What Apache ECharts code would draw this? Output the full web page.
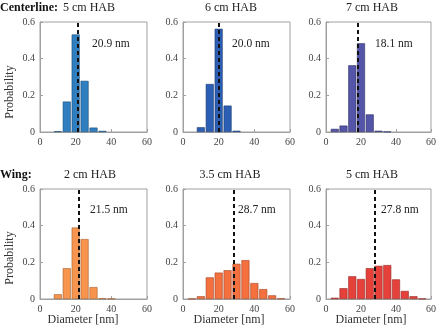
<!DOCTYPE html>
<html>
<head>
<meta charset="utf-8">
<script src="https://cdn.jsdelivr.net/npm/echarts@6/dist/echarts.min.js"></script>
<style>
  html, body { margin: 0; padding: 0; background: #fff; }
  #container { width: 439px; height: 327px; }
</style>
</head>
<body>
<div id="container"></div>
<script>
// bin centres in nm (5 nm bins)
const bins = [5, 10, 15, 20, 25, 30, 35, 40, 45, 50, 55];

const centerline5 = [0, 0.004, 0.166, 0.532, 0.279, 0.024, 0.006, 0, 0, 0, 0];
const centerline6 = [0, 0.026, 0.262, 0.563, 0.144, 0.007, 0, 0, 0, 0, 0];
const centerline7 = [0.017, 0.035, 0.364, 0.484, 0.096, 0.007, 0.002, 0, 0, 0, 0];
const wing2 = [0, 0.026, 0.168, 0.39, 0.327, 0.065, 0.004, 0.002, 0, 0, 0];
const wing35 = [0.002, 0.015, 0.118, 0.144, 0.157, 0.192, 0.212, 0.087, 0.054, 0.02, 0.003];
const wing5 = [0.007, 0.059, 0.124, 0.109, 0.168, 0.181, 0.185, 0.107, 0.044, 0.015, 0.002];

const meanDiameters = [20.9, 20.0, 18.1, 21.5, 28.7, 27.8];
const panelTitles = ['5 cm HAB', '6 cm HAB', '7 cm HAB', '2 cm HAB', '3.5 cm HAB', '5 cm HAB'];
const xTicks = [0, 20, 40, 60];
const yTicks = [0, 0.2, 0.4, 0.6];

const panelData = [centerline5, centerline6, centerline7, wing2, wing35, wing5];
const colors = ['#2f7fc0', '#2c5fb3', '#5454a8', '#f7944e', '#f4703f', '#e5413a'];
const borders = ['#1d4f7a', '#1c3c72', '#33336a', '#a5602f', '#a34626', '#962822'];

// layout of the six plot boxes
const lefts = [40, 183, 326];
const tops = [22, 189];
const boxW = 107;
const boxH = 110;
const titleX = [89, 231, 372, 90, 230, 372];
const noteX = [92, 232, 375, 90, 238, 381];
const diameterX = [83, 229, 371];

const serif = '"Liberation Serif", "DejaVu Serif", serif';

const myChart = echarts.init(document.getElementById('container'));

const grid = [];
const xAxis = [];
const yAxis = [];
const series = [];
const graphic = [];

panelData.forEach((values, i) => {
  const col = i % 3;
  const row = Math.floor(i / 3);
  const left = lefts[col];
  const top = tops[row];
  grid.push({
    left: left,
    top: top,
    width: boxW,
    height: boxH,
    show: true,
    borderColor: '#a0a0a0',
    borderWidth: 1,
  });
  xAxis.push({
    gridIndex: i,
    type: 'value',
    min: 0,
    max: 60,
    interval: 20,
    axisLine: { show: true, lineStyle: { color: '#a0a0a0' } },
    axisTick: { show: true, inside: true, length: 3, lineStyle: { color: '#a0a0a0' } },
    splitLine: { show: false },
    axisLabel: {
      color: '#444',
      fontFamily: serif,
      fontSize: 10,
      margin: 5,
      formatter: (v) => (xTicks.includes(v) ? String(v) : ''),
    },
  });
  yAxis.push({
    gridIndex: i,
    type: 'value',
    min: 0,
    max: 0.6,
    interval: 0.2,
    axisLine: { show: true, lineStyle: { color: '#a0a0a0' } },
    axisTick: { show: true, inside: true, length: 3, lineStyle: { color: '#a0a0a0' } },
    splitLine: { show: false },
    axisLabel: {
      color: '#444',
      fontFamily: serif,
      fontSize: 10,
      margin: 5,
      formatter: (v) => {
        const t = yTicks.find((y) => Math.abs(y - v) < 1e-6);
        return t === undefined ? '' : (t === 0 ? '0' : t.toFixed(1));
      },
    },
  });
  // empty bins are not drawn
  const barData = bins.map((b, k) => [b, values[k]]).filter((d) => d[1] > 0);
  series.push({
    type: 'bar',
    xAxisIndex: i,
    yAxisIndex: i,
    data: barData,
    barWidth: 8,
    itemStyle: {
      color: colors[i],
      borderColor: borders[i],
      borderWidth: 0.6,
    },
    silent: true,
    markLine: {
      silent: true,
      symbol: 'none',
      label: { show: false },
      lineStyle: { color: '#111', type: [4, 3], width: 2 },
      data: [{ xAxis: meanDiameters[i] }],
    },
  });

  // panel title
  graphic.push({
    type: 'text',
    x: titleX[i],
    y: row === 0 ? 8 : 175,
    style: {
      text: panelTitles[i],
      font: '12px ' + serif,
      fill: '#222',
      textAlign: 'center',
      textVerticalAlign: 'middle',
    },
  });
  // mean annotation
  graphic.push({
    type: 'text',
    x: noteX[i],
    y: row === 0 ? 44 : 210,
    style: {
      text: meanDiameters[i].toFixed(1) + ' nm',
      font: '11.5px ' + serif,
      fill: '#222',
      textVerticalAlign: 'middle',
    },
  });
  if (row === 1) {
    graphic.push({
      type: 'text',
      x: diameterX[col],
      y: 320,
      style: {
        text: 'Diameter [nm]',
        font: '12px ' + serif,
        fill: '#333',
        textAlign: 'center',
        textVerticalAlign: 'middle',
      },
    });
  }
});

// row labels and y-axis names
graphic.push(
  {
    type: 'text', x: 0, y: 8,
    style: { text: 'Centerline:', font: 'bold 12px ' + serif, fill: '#111', textVerticalAlign: 'middle' },
  },
  {
    type: 'text', x: 0, y: 175,
    style: { text: 'Wing:', font: 'bold 12px ' + serif, fill: '#111', textVerticalAlign: 'middle' },
  },
  {
    type: 'text', x: 10, y: 92, rotation: Math.PI / 2,
    style: { text: 'Probability', font: '12px ' + serif, fill: '#333', textAlign: 'center', textVerticalAlign: 'middle' },
  },
  {
    type: 'text', x: 10, y: 258, rotation: Math.PI / 2,
    style: { text: 'Probability', font: '12px ' + serif, fill: '#333', textAlign: 'center', textVerticalAlign: 'middle' },
  }
);

const option = {
  animation: false,
  backgroundColor: '#fff',
  grid: grid,
  xAxis: xAxis,
  yAxis: yAxis,
  series: series,
  graphic: graphic,
};
myChart.setOption(option);
</script>
</body>
</html>
